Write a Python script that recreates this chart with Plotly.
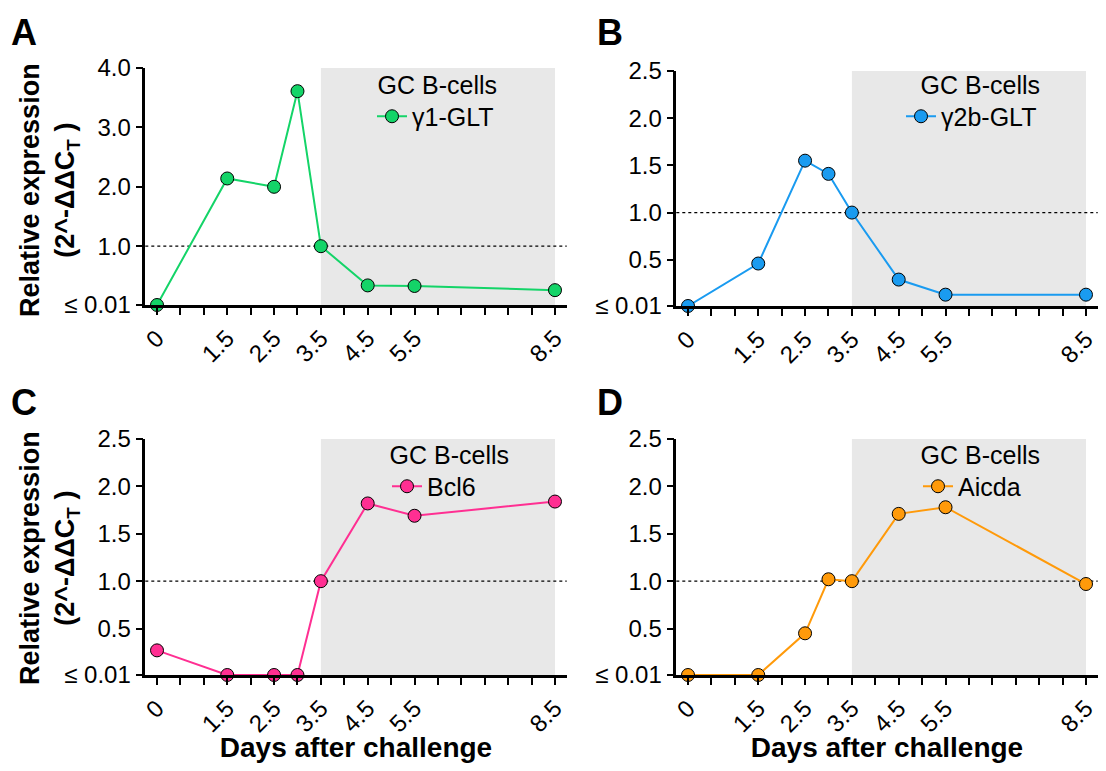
import plotly.graph_objects as go

# ---------------- data ----------------
days = [0, 1.5, 2.5, 3.0, 3.5, 4.5, 5.5, 8.5]
g1_glt = [0.01, 2.14, 2.0, 3.61, 1.0, 0.34, 0.33, 0.26]
g2b_glt = [0.01, 0.46, 1.55, 1.41, 1.0, 0.29, 0.13, 0.13]
bcl6 = [0.27, 0.01, 0.01, 0.01, 1.0, 1.82, 1.69, 1.84]
aicda = [0.01, 0.01, 0.45, 1.02, 1.0, 1.71, 1.78, 0.97]

series_names = ["γ1-GLT", "γ2b-GLT", "Bcl6", "Aicda"]
series_colors = ["#14d468", "#1a9bf0", "#ff2f92", "#ff9a0a"]
panel_letters = ["A", "B", "C", "D"]

x_tick_vals = [0, 0.5, 1, 1.5, 2, 2.5, 3, 3.5, 4, 4.5, 5, 5.5, 6, 6.5, 7, 7.5, 8, 8.5]
x_tick_text = ["0", "", "", "1.5", "", "2.5", "", "3.5", "", "4.5", "", "5.5",
               "", "", "", "", "", "8.5"]

yA_tick_vals = [0.01, 1, 2, 3, 4]
yA_tick_text = ["≤ 0.01", "1.0", "2.0", "3.0", "4.0"]
y_tick_vals = [0.01, 0.5, 1.0, 1.5, 2.0, 2.5]
y_tick_text = ["≤ 0.01", "0.5", "1.0", "1.5", "2.0", "2.5"]

legend_title = "GC B-cells"
shade_start, shade_end = 3.5, 8.5
ref_level = 1.0
y_title = "<b>Relative expression<br>(2^-ΔΔC<sub>T</sub> )</b>"
x_title = "Days after challenge"

FONT = "Liberation Sans, Arial, Helvetica, sans-serif"
OFF = 8                      # page body margin of the html page
W, H = 1106 - 2 * OFF, 771 - 2 * OFF


def fx(px):
    return (px - OFF) / W


def fy(py):
    return 1 - (py - OFF) / H


# pixel layout (window coords) of each panel: (left, right, top, bottom)
boxes = [(145.3, 566.7, 68, 305), (676.3, 1097.7, 71, 306),
         (145.3, 566.7, 439, 675), (676.3, 1097.7, 439, 675)]
ranges = [[0.01, 4.0], [0.01, 2.5], [0.01, 2.5], [0.01, 2.5]]
legend_pos = [(499, 61), (1042, 61), (511, 431), (1042, 431)]
letter_pos = [(9, 10), (595, 10), (9, 380), (595, 380)]
ytitle_pos = [(49, 190), None, (49, 558), None]

all_series = [g1_glt, g2b_glt, bcl6, aicda]

fig = go.Figure()
layout = dict(
    width=W, height=H, margin=dict(l=0, r=0, t=0, b=0),
    paper_bgcolor="white", plot_bgcolor="white", showlegend=True,
    font=dict(family=FONT, size=24, color="black"),
    shapes=[], annotations=[],
)

for i in range(4):
    sfx = "" if i == 0 else str(i + 1)
    xa, ya = "x" + sfx, "y" + sfx
    l, r, t, b = boxes[i]
    leg = "legend" + sfx
    fig.add_trace(go.Scatter(
        x=days, y=all_series[i], mode="lines+markers", name=series_names[i],
        xaxis=xa, yaxis=ya, legend=leg, cliponaxis=False, showlegend=True,
        line=dict(color=series_colors[i], width=2),
        marker=dict(size=13, color=series_colors[i], line=dict(color="black", width=1)),
    ))
    bottom_row = i >= 2
    layout["xaxis" + sfx] = dict(
        domain=[fx(l), fx(r)], anchor=ya, range=[-0.25, 8.75],
        tickmode="array", tickvals=x_tick_vals, ticktext=x_tick_text,
        tickangle=-45, ticks="outside", ticklen=7, tickwidth=2, tickcolor="black",
        showline=True, linewidth=2.5, linecolor="black", showgrid=False, zeroline=False,
        tickfont=dict(size=24), automargin=False, ticklabeloverflow="allow",
        title=dict(text=x_title if bottom_row else "", font=dict(size=28, weight="bold"), standoff=14),
    )
    layout["yaxis" + sfx] = dict(
        domain=[fy(b), fy(t)], anchor=xa, range=ranges[i],
        tickmode="array",
        tickvals=yA_tick_vals if i == 0 else y_tick_vals,
        ticktext=yA_tick_text if i == 0 else y_tick_text,
        ticks="outside", ticklen=7, tickwidth=2, tickcolor="black",
        showline=True, linewidth=2.5, linecolor="black", showgrid=False, zeroline=False,
        tickfont=dict(size=24), automargin=False, ticklabeloverflow="allow",
    )
    layout["shapes"].append(dict(
        type="rect", xref=xa, yref=ya + " domain", x0=shade_start, x1=shade_end,
        y0=0, y1=1, fillcolor="#e8e8e8", line=dict(width=0), layer="below"))
    layout["shapes"].append(dict(
        type="line", xref=xa + " domain", yref=ya, x0=0, x1=1, y0=ref_level, y1=ref_level,
        line=dict(color="black", width=1.2, dash="dot"), layer="below"))
    lx, ly = legend_pos[i]
    layout[leg] = dict(
        x=fx(lx), y=fy(ly), xanchor="right", yanchor="top", xref="paper", yref="paper",
        bgcolor="rgba(0,0,0,0)", borderwidth=0, itemwidth=30,
        title=dict(text=legend_title, side="top right", font=dict(size=25)),
        font=dict(size=25), tracegroupgap=0,
    )
    px, py = letter_pos[i]
    layout["annotations"].append(dict(
        text="<b>" + panel_letters[i] + "</b>", xref="paper", yref="paper",
        x=fx(px), y=fy(py), xanchor="left", yanchor="top", showarrow=False,
        font=dict(size=36, color="black")))
    if ytitle_pos[i] is not None:
        tx, ty = ytitle_pos[i]
        layout["annotations"].append(dict(
            text=y_title, xref="paper", yref="paper", x=fx(tx), y=fy(ty),
            xanchor="center", yanchor="middle", textangle=-90, showarrow=False,
            font=dict(size=27, color="black")))

fig.update_layout(**layout)
fig.write_html("out.html")
